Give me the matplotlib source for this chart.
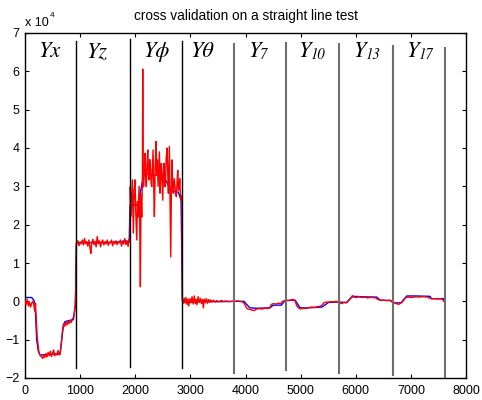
import matplotlib
matplotlib.use("Agg")
import matplotlib.pyplot as plt

plt.rcParams['font.family'] = ['Liberation Sans', 'DejaVu Sans']

# ---- data (values in units of 10^4) ----
blue_x = [0, 120, 165, 190, 212, 242, 272, 400, 520, 635, 666, 700, 726, 800, 877, 895, 915, 925, 935,
          1200, 1500, 1700, 1815, 1890, 1905, 1950, 2000, 2056, 2100, 2147, 2208, 2300, 2400, 2510,
          2577, 2632, 2700, 2782, 2831, 2855, 3000, 3200, 3500, 3800, 3975, 4000, 4080, 4200, 4446,
          4500, 4650, 4718, 4900, 4991, 5142, 5385, 5505, 5626, 5700, 5838, 5900, 5958, 6100, 6383,
          6443, 6640, 6680, 6824, 6870, 6927, 7100, 7350, 7370, 7592, 7610]
blue_y = [0.10, 0.10, 0.02, -0.30, -1.01, -1.30, -1.40, -1.39, -1.38, -1.38, -1.00, -0.60, -0.53, -0.50,
          -0.48, -0.30, -0.10, 1.00, 1.53,
          1.53, 1.53, 1.55, 1.58, 1.55, 2.50, 2.55, 2.50, 2.53, 2.90, 3.25, 3.34, 3.28, 3.30, 3.27,
          3.10, 2.91, 2.86, 2.85, 2.64, 0.00, -0.02, 0.00, -0.01, 0.00, 0.00, -0.05, -0.17, -0.18, -0.17,
          -0.10, -0.10, 0.02, 0.03, -0.17, -0.17, -0.15, -0.03, -0.02, -0.02, -0.03, 0.08, 0.13, 0.12, 0.11,
          0.03, 0.02, -0.04, -0.04, 0.05, 0.14, 0.14, 0.13, 0.07, 0.07, 0.00]

red_x_yx = [0, 20, 40, 60, 80, 100, 120, 140, 160, 175, 190, 205, 220, 235, 250, 265, 280, 300, 320,
            340, 360, 380, 400, 420, 440, 460, 480, 500, 520, 540, 560, 580, 600, 620, 640, 660, 680,
            700, 720, 740, 760, 780, 800, 820, 840, 860, 880, 895, 910, 920, 930]
red_y_yx = [0.02, -0.08, 0.05, -0.12, -0.02, -0.15, -0.05, 0.00, -0.08, -0.25, -0.05, -0.50, -0.90,
            -1.10, -1.30, -1.38, -1.42, -1.45, -1.49, -1.40, -1.47, -1.36, -1.45, -1.33, -1.42, -1.30,
            -1.44, -1.35, -1.27, -1.42, -1.36, -1.40, -1.28, -1.40, -1.33, -1.10, -0.75, -0.60, -0.65,
            -0.55, -0.62, -0.52, -0.58, -0.50, -0.55, -0.45, -0.42, -0.30, -0.10, 0.30, 1.50]

red_x_yz = [940, 960, 980, 1000, 1020, 1040, 1060, 1080, 1100, 1120, 1140, 1160, 1180, 1195, 1210,
            1230, 1250, 1270, 1290, 1310, 1330, 1350, 1370, 1390, 1410, 1430, 1450, 1470, 1490, 1510,
            1530, 1550, 1570, 1590, 1610, 1630, 1650, 1670, 1690, 1710, 1730, 1750, 1770, 1790, 1810,
            1830, 1850, 1870, 1890, 1905]
red_y_yz = [1.52, 1.58, 1.45, 1.55, 1.50, 1.60, 1.47, 1.64, 1.50, 1.56, 1.44, 1.60, 1.38, 1.25, 1.52,
            1.62, 1.48, 1.57, 1.42, 1.69, 1.50, 1.58, 1.42, 1.55, 1.60, 1.47, 1.56, 1.50, 1.60, 1.46,
            1.55, 1.52, 1.60, 1.45, 1.56, 1.50, 1.58, 1.48, 1.55, 1.52, 1.60, 1.44, 1.55, 1.50, 1.64,
            1.48, 1.58, 1.43, 1.62, 1.55]

red_x_yphi = [1910, 1924, 1947, 1965, 1980, 1996, 2010, 2027, 2040, 2051, 2069, 2082, 2093, 2105, 2118,
              2130, 2136, 2142, 2150, 2165, 2178, 2190, 2201, 2215, 2227, 2240, 2250, 2262, 2274, 2287,
              2299, 2311, 2323, 2335, 2347, 2362, 2377, 2389, 2401, 2414, 2426, 2438, 2450, 2462, 2474,
              2487, 2499, 2511, 2523, 2535, 2546, 2560, 2577, 2590, 2601, 2610, 2619, 2632, 2644, 2656,
              2668, 2680, 2692, 2707, 2722, 2734, 2746, 2758, 2771, 2783, 2795, 2807, 2819, 2831, 2845,
              2855]
red_y_yphi = [2.99, 2.21, 3.17, 1.78, 2.90, 3.17, 2.30, 1.60, 2.60, 2.20, 3.00, 1.90, 0.38, 2.80, 2.20,
              3.20, 6.06, 3.50, 2.99, 3.40, 3.86, 3.20, 2.99, 3.60, 3.95, 3.30, 3.17, 3.70, 3.60, 3.10,
              2.99, 3.50, 3.95, 3.00, 2.21, 3.50, 4.17, 3.30, 3.69, 3.00, 3.42, 3.90, 2.82, 3.30, 3.60,
              3.10, 2.64, 3.40, 3.60, 3.00, 2.99, 3.70, 4.00, 3.30, 2.82, 3.50, 4.04, 2.50, 1.16, 2.90,
              3.69, 3.00, 2.82, 3.20, 2.99, 2.80, 2.73, 3.10, 3.42, 2.90, 2.91, 3.20, 2.82, 2.64, 2.75,
              0.05]

red_x_ytheta = [2870, 2890, 2905, 2920, 2940, 2955, 2970, 2990, 3010, 3030, 3050, 3070, 3090, 3105, 3120,
                3140, 3160, 3180, 3200, 3220, 3236, 3250, 3270, 3290, 3310, 3330, 3350, 3370, 3390, 3420,
                3450, 3480, 3520, 3560, 3600, 3650, 3700, 3750, 3800]
red_y_ytheta = [-0.05, 0.08, -0.05, 0.10, -0.08, 0.06, -0.12, 0.07, -0.04, 0.12, -0.07, 0.14, -0.06, 0.05,
                -0.09, 0.12, -0.03, 0.08, -0.06, 0.05, -0.17, 0.06, -0.04, 0.07, -0.05, 0.05, -0.03, 0.04,
                -0.02, 0.03, -0.02, 0.02, -0.01, 0.02, 0.00, 0.01, -0.01, 0.00, 0.00]

red_x_rest = [3850, 3900, 3950, 3980, 4010, 4040, 4080, 4120, 4160, 4200, 4250, 4300, 4350, 4400, 4440,
              4470, 4500, 4550, 4600, 4640, 4670, 4700, 4730, 4780, 4830, 4870, 4900, 4930, 4960, 5000,
              5050, 5100, 5150, 5200, 5250, 5300, 5350, 5390, 5420, 5460, 5500, 5550, 5600, 5650, 5700,
              5740, 5790, 5830, 5870, 5910, 5940, 5970, 6010, 6060, 6110, 6160, 6210, 6260, 6310, 6360,
              6400, 6440, 6500, 6560, 6620, 6660, 6700, 6740, 6780, 6820, 6850, 6880, 6910, 6950, 7000,
              7050, 7100, 7150, 7200, 7250, 7300, 7340, 7380, 7430, 7480, 7530, 7570, 7600]
red_y_rest = [0.01, 0.00, -0.02, -0.06, -0.15, -0.20, -0.21, -0.23, -0.24, -0.20, -0.19, -0.20, -0.18,
              -0.19, -0.16, -0.08, -0.06, -0.07, -0.05, -0.06, 0.00, 0.01, 0.03, 0.02, 0.04, 0.05, 0.01,
              -0.12, -0.17, -0.20, -0.18, -0.19, -0.16, -0.15, -0.16, -0.14, -0.13, -0.10, -0.04, -0.02,
              -0.02, -0.01, -0.01, 0.00, -0.02, -0.06, -0.03, -0.04, 0.02, 0.08, 0.15, 0.11, 0.10, 0.12,
              0.10, 0.11, 0.09, 0.10, 0.10, 0.09, 0.05, 0.03, 0.03, 0.02, 0.03, -0.02, -0.03, -0.06, -0.08,
              -0.04, -0.01, 0.05, 0.10, 0.11, 0.10, 0.11, 0.12, 0.11, 0.12, 0.12, 0.11, 0.08, 0.07, 0.07,
              0.06, 0.07, 0.05, 0.00]

sep_x = [930, 1900, 2855, 3790, 4730, 5700, 6670, 7620]
sep_top = [6.79, 6.84, 6.79, 6.72, 6.75, 6.70, 6.66, 6.62]
sep_bottom = [-1.74, -1.72, -1.74, -1.87, -1.79, -1.86, -1.92, -1.97]

seg_main = ['Yx', 'Yz', 'Y\u03d5', 'Y\u03b8', 'Y', 'Y', 'Y', 'Y']
seg_sub = ['', '', '', '', '7', '10', '13', '17']
label_x = [242, 1107, 2147, 2995, 4053, 4960, 5958, 6915]

x_ticks = [0, 1000, 2000, 3000, 4000, 5000, 6000, 7000, 8000]
y_ticks = [-2, -1, 0, 1, 2, 3, 4, 5, 6, 7]

title = 'cross validation on a straight line test'

# ---- figure ----
W, H = 482, 400
fig = plt.figure(figsize=(W / 100, H / 100), dpi=100)
ax = fig.add_axes([25 / W, 22 / H, 441 / W, 345 / H])

ax.plot(blue_x, blue_y, color='blue', lw=1.0, zorder=2)
red_x = red_x_yx + red_x_yz + red_x_yphi + red_x_ytheta + red_x_rest
red_y = red_y_yx + red_y_yz + red_y_yphi + red_y_ytheta + red_y_rest
ax.plot(red_x, red_y, color='red', lw=1.0, zorder=3)

for i, (sx, st, sb) in enumerate(zip(sep_x, sep_top, sep_bottom)):
    col = 'black' if i < 3 else '#6e6e6e'
    lw = 1.0 if i < 3 else 1.5
    ax.plot([sx, sx], [sb, st], color=col, lw=lw, zorder=4)

serif_it = dict(family=['STIXGeneral', 'Liberation Serif', 'DejaVu Serif'], style='italic')
for lx, main, sub in zip(label_x, seg_main, seg_sub):
    ax.text(lx, 6.37, main, fontsize=16, ha='left', va='baseline', zorder=5, **serif_it)
    if sub:
        ax.annotate(sub, xy=(lx, 6.37), xytext=(8.4, -1.6), textcoords='offset points',
                    fontsize=10.5, ha='left', va='baseline', zorder=5, **serif_it)

ax.set_xlim(0, 8000)
ax.set_ylim(-2, 7)
ax.set_xticks(x_ticks)
ax.set_yticks(y_ticks)
ax.tick_params(direction='in', top=True, right=True, length=3, width=0.8, labelsize=9)
ax.tick_params(axis='y', pad=4)
ax.tick_params(axis='x', pad=5)
for sp in ax.spines.values():
    sp.set_linewidth(1.0)

ax.set_title(title, fontsize=9.8, pad=9)

fig.text(25 / W, 1 - 26 / H, 'x 10', fontsize=9, ha='left', va='baseline')
fig.text(50 / W, 1 - 17 / H, '4', fontsize=6, ha='left', va='baseline')

fig.savefig('out.png', dpi=100)
